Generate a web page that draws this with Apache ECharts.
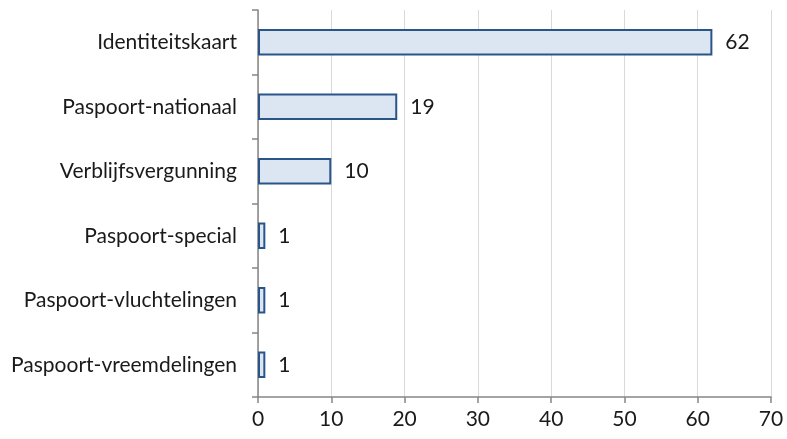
<!DOCTYPE html>
<html><head><meta charset="utf-8">
<script src="https://cdn.jsdelivr.net/npm/echarts@6/dist/echarts.min.js"></script>
<style>html,body{margin:0;padding:0;background:#fff}#c{width:787px;height:439px}</style>
</head><body><div id="c"></div>
<script>
const categories = ["Paspoort-vreemdelingen","Paspoort-vluchtelingen","Paspoort-special","Verblijfsvergunning","Paspoort-nationaal","Identiteitskaart"];
const values = [1,1,1,10,19,62];
const xTicks = {min:0,max:70,interval:10};
const chart = echarts.init(document.getElementById('c'));
const font = "Lato, 'Open Sans', sans-serif";
chart.setOption({
  animation:false,
  grid:{left:258,right:16,top:10,bottom:42,containLabel:false},
  xAxis:{type:'value',min:xTicks.min,max:xTicks.max,interval:xTicks.interval,
    axisLine:{show:true,lineStyle:{color:'#868686',width:1.5}},
    axisTick:{show:true,length:6,lineStyle:{color:'#868686',width:1.5}},
    axisLabel:{color:'#1a1a1a',fontSize:21,fontFamily:font,margin:12},
    splitLine:{show:true,lineStyle:{color:'#d9d9d9',width:1}}},
  yAxis:{type:'category',data:categories,
    axisLine:{show:true,lineStyle:{color:'#868686',width:1.5}},
    axisTick:{show:true,length:6,lineStyle:{color:'#868686',width:1.5}},
    axisLabel:{color:'#1a1a1a',fontSize:21,fontFamily:font,margin:21},
    splitLine:{show:false}},
  series:[{type:'bar',data:values,barWidth:'41%',
    itemStyle:{color:'#dce6f2',borderColor:'#2a5589',borderWidth:2},
    label:{show:true,position:'right',distance:13,color:'#1a1a1a',fontSize:21,fontFamily:font}}]
});
</script></body></html>
